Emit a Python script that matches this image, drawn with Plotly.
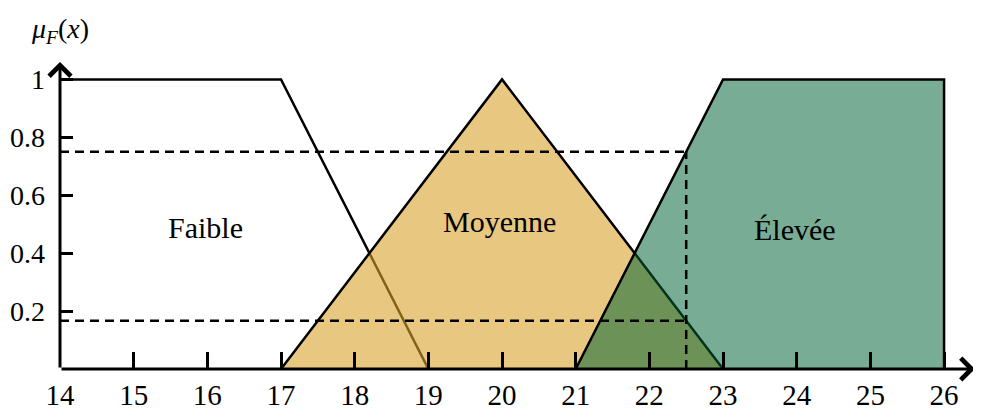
import numpy as np
import plotly.graph_objects as go

# Membership functions (x breakpoints, mu values)
faible_x = [14, 17, 19]
faible_y = [1, 1, 0]
moyenne_x = [17, 20, 23]
moyenne_y = [0, 1, 0]
elevee_x = [21, 23, 26, 26]
elevee_y = [0, 1, 1, 0]

x_input = 22.5
x_ticks = list(range(14, 27))
y_ticks = [0.2, 0.4, 0.6, 0.8, 1]
y_ticklabels = ["0.2", "0.4", "0.6", "0.8", "1"]

mu_elev = float(np.interp(x_input, elevee_x[:2], elevee_y[:2]))
mu_moy = float(np.interp(x_input, moyenne_x, moyenne_y))

FONT = "Liberation Serif"
x_min, x_max = 14, 26.42
y_min, y_max = 0, 1.06

fig = go.Figure()

# Faible (outline only)
fig.add_trace(go.Scatter(x=faible_x, y=faible_y, mode="lines",
                         line=dict(color="black", width=2.5), hoverinfo="skip"))
# Moyenne
fig.add_trace(go.Scatter(x=moyenne_x, y=moyenne_y, mode="lines", fill="toself",
                         fillcolor="rgba(217,163,43,0.6)",
                         line=dict(color="black", width=2.5), hoverinfo="skip"))
# Élevée
fig.add_trace(go.Scatter(x=elevee_x, y=elevee_y, mode="lines", fill="toself",
                         fillcolor="rgba(0,98,53,0.53)",
                         line=dict(color="black", width=2.5), hoverinfo="skip"))

# Dashed guide lines
dash = dict(color="black", width=2.5, dash="9px,6px")
fig.add_trace(go.Scatter(x=[x_min, x_input], y=[mu_elev, mu_elev], mode="lines",
                         line=dash, hoverinfo="skip"))
fig.add_trace(go.Scatter(x=[x_min, x_input], y=[mu_moy, mu_moy], mode="lines",
                         line=dash, hoverinfo="skip"))
fig.add_trace(go.Scatter(x=[x_input, x_input], y=[0, mu_elev], mode="lines",
                         line=dash, hoverinfo="skip"))

# Labels
labels = [("Faible", 15.97, 0.49), ("Moyenne", 19.97, 0.51), ("Élevée", 23.98, 0.48)]
for txt, lx, ly in labels:
    fig.add_annotation(x=lx, y=ly, text=txt, showarrow=False,
                       font=dict(family=FONT, size=30, color="black"))

# Axis arrows
fig.add_annotation(x=x_max, y=0, ax=x_min, ay=0, axref="x", ayref="y",
                   xref="x", yref="y", text="", showarrow=True,
                   arrowhead=4, arrowsize=1.4, arrowwidth=3, arrowcolor="black")
fig.add_annotation(x=x_min, y=y_max, ax=x_min, ay=0, axref="x", ayref="y",
                   xref="x", yref="y", text="", showarrow=True,
                   arrowhead=4, arrowsize=1.4, arrowwidth=3, arrowcolor="black")

# Y axis title
fig.add_annotation(x=x_min, y=y_max, xref="x", yref="y", yshift=32,
                   text="<i>μ</i><sub><i>F</i></sub>(<i>x</i>)", showarrow=False,
                   font=dict(family=FONT, size=28, color="black"))

fig.update_layout(
    width=973, height=409,
    margin=dict(l=52, r=6, t=54, b=48),
    paper_bgcolor="white", plot_bgcolor="white",
    showlegend=False,
    xaxis=dict(range=[x_min, x_max], tickvals=x_ticks, ticks="inside", ticklen=17,
               tickwidth=2.5, tickcolor="black", showgrid=False, zeroline=False,
               showline=False, ticklabelstandoff=6, automargin=False,
               tickfont=dict(family=FONT, size=29, color="black")),
    yaxis=dict(range=[y_min, y_max], tickvals=y_ticks, ticktext=y_ticklabels,
               ticks="inside", ticklen=13, tickwidth=2.5, tickcolor="black",
               showgrid=False, zeroline=False, showline=False, automargin=False,
               ticklabelstandoff=14,
               tickfont=dict(family=FONT, size=28, color="black")),
)

fig.write_html("out.html")
